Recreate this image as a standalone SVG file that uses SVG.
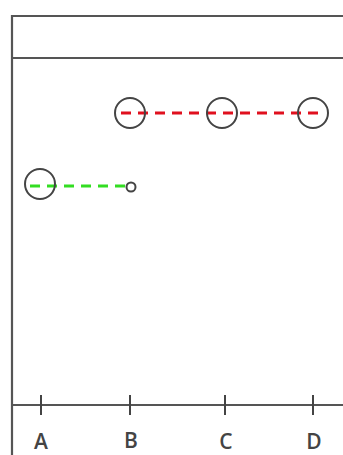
<svg xmlns="http://www.w3.org/2000/svg" width="343" height="455" viewBox="0 0 343 455">
<style>
.frame{stroke:#555;stroke-width:2.2;fill:none}
.tick{stroke:#444;stroke-width:2}
.node{fill:none;stroke:#444;stroke-width:2}
.red{stroke:#e0101e;stroke-width:3;stroke-dasharray:10 7;fill:none}
.green{stroke:#33dd22;stroke-width:3;stroke-dasharray:10 7;fill:none}
.lbl{font-family:"Open Sans","Liberation Sans",sans-serif;font-size:21px;font-weight:600;fill:#444;text-anchor:middle}
</style>
<rect width="343" height="455" fill="#fff"/>
<g id="frame">
<path class="frame" d="M12,455 V16 H343 M12,58 H343 M12,405 H343"/>
<line class="tick" x1="41" y1="395" x2="41" y2="415"/>
<line class="tick" x1="130" y1="395" x2="130" y2="415"/>
<line class="tick" x1="225" y1="395" x2="225" y2="415"/>
<line class="tick" x1="313" y1="395" x2="313" y2="415"/>
<text class="lbl" x="41" y="449">A</text>
<text class="lbl" x="131" y="448">B</text>
<text class="lbl" x="226" y="449">C</text>
<text class="lbl" x="314" y="449">D</text>
</g>
<g id="connectors">
<line class="red" x1="121" y1="113" x2="320" y2="113"/>
<line class="green" x1="30" y1="186" x2="126" y2="186"/>
</g>
<g id="nodeB1"><circle class="node" cx="130" cy="113" r="15"/></g>
<g id="nodeC1"><circle class="node" cx="222" cy="113" r="15"/></g>
<g id="nodeD1"><circle class="node" cx="313" cy="113" r="15"/></g>
<g id="nodeA2"><circle class="node" cx="40" cy="184" r="15"/></g>
<g id="nodeB2"><circle class="node" cx="131" cy="187" r="4.5" stroke-width="3"/></g>
</svg>
